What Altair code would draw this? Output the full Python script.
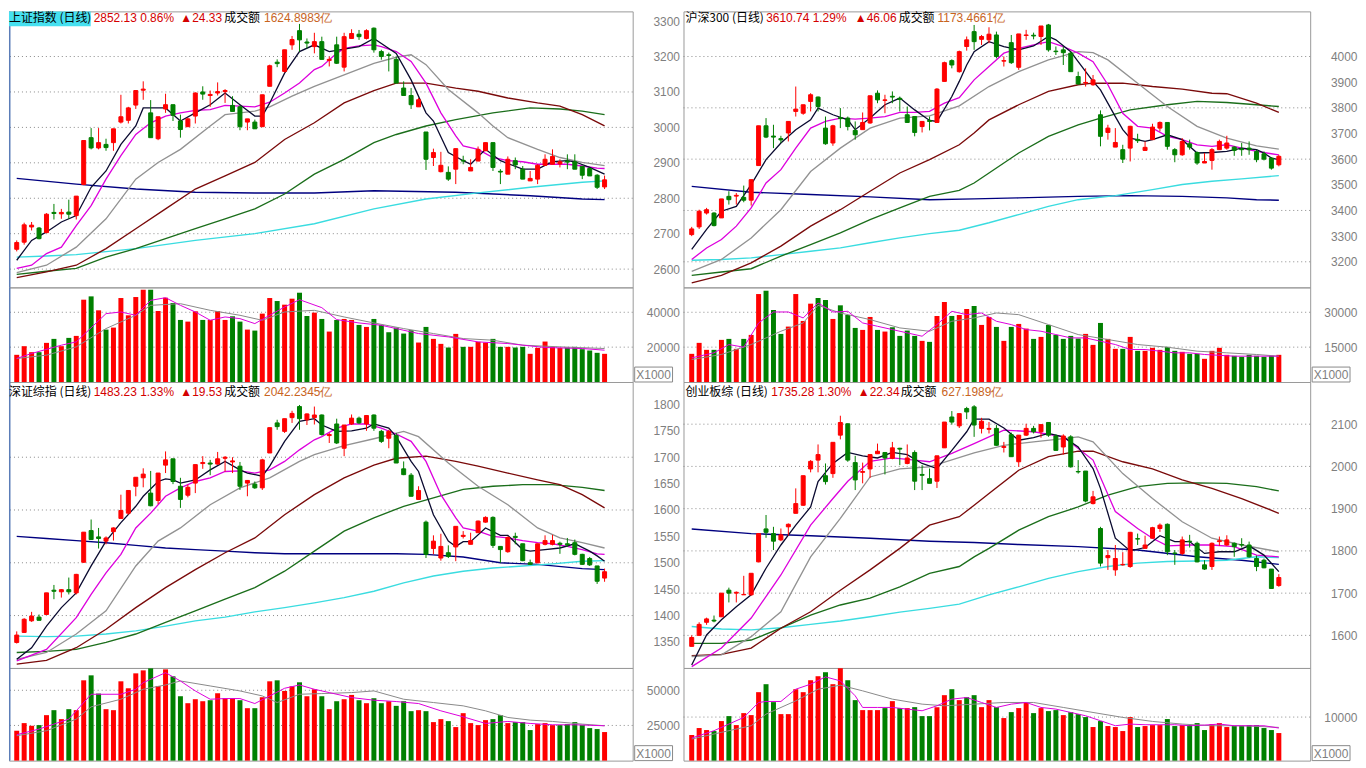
import altair as alt
import pandas as pd
import numpy as np

# ---------------- data ----------------
NAMES = ["上证指数 (日线)", "沪深300 (日线)", "深证综指 (日线)", "创业板综 (日线)"]
QUOTES = ["2852.13 0.86%", "3610.74 1.29%", "1483.23 1.33%", "1735.28 1.30%"]
CHANGES = ["▲24.33", "▲46.06", "▲19.53", "▲22.34"]
AMOUNT_LABEL = "成交额"
AMOUNTS = ["1624.8983亿", "1173.4661亿", "2042.2345亿", "627.1989亿"]

# 上证指数
SH_OPEN = [2656,2676,2719,2716,2703,2760,2756,2761,2751,2839,2971,2942,2952,2957,3015,3020,3063,3105,3041,2968,
           3052,3064,3018,3002,3032,3100,3090,3097,3101,3062,3058,3015,3015,3002,3116,3184,3158,3233,3273,3241,
           3228,3242,3189,3233,3170,3251,3263,3251,3280,3214,3205,3192,3111,3090,3058,2987,2915,2875,2873,2882,
           2907,2877,2905,2934,2957,2876,2868,2906,2882,2849,2854,2893,2896,2897,2905,2903,2890,2884,2865,2832]
SH_CLOSE = [2675,2725,2724,2686,2755,2757,2760,2755,2806,2963,2942,2957,2943,2996,3030,3055,3104,3108,2971,3030,
            3064,3034,2994,3024,3097,3094,3093,3101,3104,3045,3002,3024,2996,3092,3174,3180,3219,3248,3247,3238,
            3242,3192,3192,3181,3256,3265,3256,3273,3219,3200,3203,3125,3090,3064,3078,2910,2929,2893,2854,2940,
            2905,2887,2938,2957,2887,2874,2910,2894,2854,2856,2893,2910,2918,2903,2902,2882,2865,2863,2831,2852]
SH_HIGH = [2681,2731,2733,2719,2758,2784,2770,2796,2806,2963,2998,2998,2968,2996,3092,3058,3104,3130,3077,3030,
           3095,3064,3036,3027,3099,3116,3104,3127,3108,3088,3062,3024,3022,3092,3177,3192,3219,3258,3292,3251,
           3267,3256,3200,3256,3267,3277,3275,3277,3282,3219,3211,3200,3130,3111,3083,2987,2940,2931,2890,2940,
           2920,2910,2946,2957,2957,2882,2918,2915,2891,2877,2896,2924,2938,2910,2924,2924,2891,2887,2868,2864]
SH_LOW = [2650,2669,2709,2684,2703,2740,2742,2742,2740,2837,2938,2938,2934,2934,3011,3011,3052,3078,2971,2964,
          3041,3018,2971,3002,3011,3078,3058,3090,3069,3045,2992,2992,2996,3002,3116,3170,3155,3219,3214,3223,
          3209,3192,3172,3179,3158,3251,3247,3248,3211,3191,3158,3125,3090,3052,3058,2880,2891,2873,2849,2840,
          2896,2877,2905,2934,2877,2840,2868,2882,2854,2849,2840,2893,2896,2887,2882,2882,2854,2863,2826,2826]
SH_VOL = [15600,20550,17120,17120,22450,24740,20550,25310,26450,47220,49120,41120,30070,31210,48170,38260,48740,52930,52930,40740,
          48360,45310,35600,34650,40550,35600,35600,40740,35600,37700,34650,30070,29500,39220,48170,46450,44360,47790,51220,37880,
          39790,36170,28930,35600,36170,35600,32740,31600,36170,32740,28550,31210,27790,29690,22640,31600,24740,21880,19790,27600,
          20170,20170,23030,22640,24740,20170,20170,19790,20170,16170,19600,23210,20170,19600,19790,20170,18830,18070,16740,16170]
SH_MA5 = [[0,2625],[2,2681],[4,2705],[6,2733],[8,2751],[10,2831],[12,2877],[14,2952],[16,3004],[17,3055],[19,3055],[20,3055],
          [22,3018],[24,3041],[26,3064],[28,3097],[30,3064],[32,3032],[33,3032],[34,3069],[36,3153],[38,3214],[40,3233],[42,3214],
          [46,3228],[48,3251],[51,3209],[53,3134],[55,3041],[56,3018],[58,2929],[60,2906],[61,2896],[63,2938],[65,2906],[68,2882],
          [70,2882],[72,2903],[74,2906],[75,2903],[77,2887],[79,2868]]
SH_MA10 = [[0,2602],[2,2611],[4,2644],[6,2662],[8,2723],[10,2779],[12,2854],[14,2920],[16,2980],[18,3013],[20,3032],[22,3041],
           [24,3048],[26,3050],[28,3062],[30,3060],[32,3058],[34,3071],[36,3097],[38,3125],[40,3163],[41,3172],[43,3209],[44,3223],
           [46,3230],[48,3233],[49,3228],[51,3214],[53,3186],[55,3125],[57,3041],[59,2976],[60,2948],[62,2938],[64,2915],[66,2906],
           [68,2903],[70,2896],[72,2896],[74,2896],[76,2891],[78,2885],[79,2884]]
SH_MA20 = [[0,2590],[4,2611],[8,2662],[12,2742],[16,2854],[19,2901],[22,2938],[26,3004],[28,3036],[30,3041],[32,3046],[34,3058],
           [37,3088],[40,3116],[44,3148],[48,3181],[51,3198],[53,3205],[55,3177],[58,3107],[62,3041],[64,3004],[66,2971],[70,2938],
           [73,2915],[76,2901],[79,2892]]
SH_MA60 = [[0,2576],[4,2592],[8,2611],[12,2658],[16,2714],[20,2770],[24,2826],[28,2863],[32,2901],[36,2966],[40,3013],[44,3069],
           [48,3104],[51,3125],[55,3125],[59,3111],[62,3102],[66,3083],[70,3069],[73,3060],[76,3036],[79,3004]]
SH_MA120 = [[0,2585],[4,2594],[8,2602],[12,2634],[16,2658],[20,2686],[24,2714],[28,2742],[32,2770],[36,2812],[40,2868],[44,2910],
            [48,2957],[51,2980],[55,3004],[59,3022],[64,3041],[69,3055],[73,3052],[76,3046],[79,3036]]
SH_MA250 = [[0,2634],[4,2637],[8,2641],[16,2658],[24,2681],[32,2700],[40,2728],[48,2770],[55,2798],[62,2815],[69,2831],[76,2845],[79,2849]]
SH_MAL = [[0,2856],[8,2840],[16,2826],[24,2817],[32,2815],[40,2815],[48,2821],[59,2817],[69,2807],[76,2798],[79,2796]]
SH_VMA5 = [[0,13500],[2,16360],[6,21120],[8,23020],[12,39220],[14,40170],[16,38270],[18,46840],[20,48360],[22,43980],[24,40170],
           [26,35410],[28,37310],[30,36360],[32,33500],[34,38270],[36,43030],[38,47220],[41,42640],[43,35790],[46,33880],[49,32550],
           [54,27790],[58,25880],[62,23020],[66,22070],[71,19790],[76,19210],[79,18260]]
SH_VMA10 = [[0,13500],[4,15400],[8,20170],[12,30650],[16,38270],[18,43980],[22,44930],[26,41120],[30,38270],[33,35410],[36,40170],
            [40,41120],[44,37310],[48,33880],[52,30650],[56,27790],[60,24930],[64,23980],[68,21120],[73,20170],[79,19210]]

# 沪深300
HS_OPEN = [3306,3336,3390,3390,3371,3455,3456,3451,3440,3575,3730,3690,3680,3702,3786,3779,3825,3842,3721,3663,
           3762,3760,3712,3715,3741,3857,3829,3845,3837,3773,3766,3727,3751,3743,3903,3984,3941,4039,4097,4067,
           4065,4084,3982,4054,3958,4082,4083,4078,4123,4021,4026,4013,3922,3897,3890,3773,3704,3647,3637,3643,
           3677,3634,3676,3721,3743,3637,3617,3660,3626,3585,3595,3637,3643,3647,3640,3643,3630,3621,3604,3578]
HS_CLOSE = [3328,3397,3403,3341,3445,3442,3459,3440,3520,3730,3686,3686,3675,3747,3795,3812,3851,3805,3660,3730,
            3758,3727,3695,3743,3847,3831,3831,3842,3833,3743,3704,3747,3747,3873,3976,3967,4019,4065,4058,4078,
            4087,4000,3984,3976,4088,4084,4080,4119,4026,4019,4015,3941,3893,3899,3909,3689,3721,3665,3600,3728,
            3672,3646,3725,3743,3650,3617,3669,3647,3585,3591,3637,3669,3663,3634,3637,3637,3598,3600,3565,3611]
HS_HIGH = [3336,3403,3410,3393,3445,3475,3468,3497,3520,3730,3760,3734,3691,3747,3883,3812,3857,3844,3766,3734,
           3799,3766,3747,3782,3847,3868,3851,3864,3844,3805,3766,3747,3766,3877,3980,3989,4023,4078,4123,4084,
           4114,4097,4000,4084,4088,4104,4093,4119,4127,4039,4039,4019,3941,3954,3928,3790,3734,3721,3656,3730,
           3699,3669,3738,3747,3743,3643,3682,3676,3630,3624,3643,3676,3691,3650,3663,3669,3637,3630,3608,3617]
HS_LOW = [3300,3328,3384,3338,3371,3423,3423,3432,3419,3575,3682,3643,3663,3669,3766,3773,3786,3786,3656,3652,
          3721,3712,3676,3715,3738,3818,3779,3818,3786,3743,3689,3704,3712,3743,3903,3954,3937,4023,4026,4045,
          4052,3993,3961,3971,3948,4065,4067,4045,4019,4006,3967,3941,3890,3883,3886,3650,3676,3647,3585,3591,
          3663,3634,3676,3708,3637,3588,3613,3637,3578,3585,3559,3637,3637,3613,3613,3617,3588,3595,3559,3572]
HS_VOL = [12120,16840,13840,13840,18130,18550,14270,18550,20270,37840,39270,30990,20700,23840,37840,26270,33700,36130,35270,27130,
          32990,28840,23270,22410,27990,22410,21700,23550,19840,22130,19840,17700,17270,28420,34410,28420,28840,31420,32700,24560,
          27990,23700,17700,23700,24990,22980,18550,19410,24560,20270,18550,19840,18690,20700,15980,25410,18550,14270,14270,19410,
          13410,13410,14700,13840,15120,13410,12980,12120,12120,9980,13410,14700,11690,11270,10840,11690,11270,10840,11270,11690]
HS_MA5 = [[0,3248],[2,3326],[4,3397],[6,3416],[8,3501],[10,3598],[12,3663],[14,3715],[16,3753],[17,3799],[19,3773],[21,3753],
          [22,3715],[24,3760],[26,3812],[28,3838],[30,3792],[32,3751],[33,3747],[35,3844],[36,3903],[37,3967],[38,4019],[40,4058],
          [42,4039],[44,4026],[46,4041],[48,4078],[49,4065],[51,4019],[52,3980],[54,3903],[55,3870],[57,3766],[58,3715],[59,3682],
          [61,3669],[62,3676],[64,3695],[66,3676],[68,3624],[70,3626],[72,3630],[74,3643],[76,3637],[77,3624],[78,3604],[79,3598]]
HS_MA10 = [[0,3209],[2,3254],[4,3287],[6,3339],[8,3410],[10,3507],[12,3559],[14,3643],[16,3721],[18,3747],[20,3760],[22,3756],
           [24,3760],[26,3766],[28,3782],[30,3782],[32,3786],[34,3818],[36,3840],[38,3909],[40,3961],[42,4013],[44,4032],[46,4045],
           [48,4058],[50,4039],[52,4013],[54,3980],[56,3890],[58,3779],[60,3728],[62,3721],[64,3689],[66,3676],[68,3656],[70,3650],
           [72,3656],[74,3643],[76,3630],[78,3621],[79,3617]]
HS_MA20 = [[0,3163],[4,3209],[8,3293],[12,3403],[16,3552],[20,3643],[24,3721],[28,3760],[32,3769],[36,3808],[40,3883],[44,3941],
           [48,3987],[52,4019],[54,4015],[56,3987],[60,3896],[64,3805],[68,3728],[72,3682],[76,3652],[79,3639]]
HS_MA60 = [[0,3118],[4,3147],[8,3196],[12,3261],[16,3339],[20,3403],[24,3475],[28,3546],[32,3598],[36,3656],[38,3702],[40,3753],
           [44,3812],[48,3864],[52,3890],[54,3896],[58,3896],[62,3883],[66,3873],[70,3857],[72,3855],[76,3818],[79,3782]]
HS_MA120 = [[0,3147],[4,3160],[8,3173],[12,3222],[16,3267],[20,3313],[24,3364],[28,3410],[32,3455],[36,3478],[38,3507],[40,3546],
            [44,3624],[48,3689],[52,3734],[55,3760],[59,3792],[64,3812],[68,3825],[72,3821],[76,3812],[79,3805]]
HS_MA250 = [[0,3206],[4,3209],[8,3215],[12,3228],[16,3241],[20,3254],[24,3274],[28,3293],[32,3310],[36,3323],[40,3352],[44,3384],
            [48,3416],[52,3442],[57,3458],[62,3481],[66,3501],[70,3514],[74,3523],[79,3536]]
HS_MAL = [[0,3494],[8,3471],[16,3462],[24,3453],[32,3442],[38,3445],[44,3449],[52,3455],[59,3458],[66,3455],[72,3449],[76,3442],[79,3440]]
HS_VMA5 = [[0,10410],[3,12550],[5,16120],[7,14980],[9,25410],[11,30130],[13,30130],[15,27560],[17,33990],[19,30130],[21,30410],
           [23,25410],[25,23980],[27,22550],[29,21130],[31,19700],[33,24700],[35,30410],[37,28980],[39,29700],[41,26130],[43,24700],
           [45,22550],[47,21840],[49,20410],[51,18980],[53,18980],[55,17550],[57,16120],[59,13980],[61,13980],[63,13270],[65,12550],
           [67,12550],[69,11840],[73,11120],[79,11120]]
HS_VMA10 = [[0,9690],[4,11840],[8,16120],[12,21840],[15,25410],[17,32990],[20,29700],[24,26840],[28,23270],[32,21840],[35,26130],
            [38,27560],[41,29700],[44,28980],[48,24700],[52,20410],[56,18270],[60,16120],[64,14980],[68,13270],[72,12550],[76,11840],[79,11120]]

# 深证综指
SZ_OPEN = [1349,1368,1390,1397,1402,1448,1445,1449,1443,1501,1561,1549,1541,1559,1584,1594,1645,1661,1632,1618,
           1685,1697,1645,1628,1651,1688,1689,1687,1698,1691,1683,1651,1649,1642,1708,1765,1749,1775,1796,1771,
           1775,1780,1741,1763,1717,1763,1774,1763,1780,1749,1736,1741,1678,1666,1620,1577,1527,1509,1519,1530,
           1550,1535,1557,1577,1586,1531,1521,1550,1536,1500,1500,1535,1535,1537,1536,1538,1516,1508,1494,1471]
SZ_CLOSE = [1363,1393,1399,1391,1443,1446,1449,1445,1478,1558,1544,1546,1547,1566,1599,1637,1662,1668,1608,1670,
            1695,1654,1620,1643,1686,1690,1687,1697,1700,1693,1645,1656,1642,1695,1756,1758,1773,1783,1773,1782,
            1780,1743,1743,1727,1761,1774,1765,1779,1755,1730,1749,1689,1667,1626,1637,1516,1541,1531,1512,1569,
            1552,1542,1579,1586,1533,1525,1548,1548,1504,1497,1536,1542,1542,1535,1534,1516,1497,1496,1465,1483]
SZ_HIGH = [1370,1395,1407,1402,1443,1458,1450,1472,1479,1558,1582,1566,1550,1567,1629,1637,1662,1679,1674,1670,
           1711,1697,1661,1648,1686,1702,1695,1710,1702,1700,1691,1656,1654,1697,1756,1771,1773,1788,1799,1783,
           1796,1781,1746,1773,1761,1781,1777,1780,1781,1752,1752,1746,1692,1670,1645,1580,1552,1555,1533,1569,
           1560,1557,1580,1588,1588,1531,1550,1557,1536,1506,1536,1552,1553,1540,1547,1544,1517,1511,1494,1489]
SZ_LOW = [1347,1367,1388,1391,1402,1431,1434,1440,1440,1500,1544,1527,1535,1542,1584,1591,1626,1643,1607,1611,
          1670,1649,1604,1624,1632,1678,1666,1686,1673,1670,1638,1626,1640,1638,1708,1752,1746,1765,1752,1761,
          1762,1741,1727,1725,1702,1761,1763,1750,1750,1727,1717,1689,1666,1626,1620,1509,1516,1504,1509,1503,
          1546,1535,1557,1576,1528,1500,1519,1535,1503,1496,1500,1533,1533,1517,1530,1514,1496,1494,1460,1464]
SZ_VOL = [21240,26660,24770,25240,32320,35860,29490,36560,35860,57080,60610,47650,36560,35860,56370,51420,62030,64150,65570,53070,
          64860,59910,45760,40810,43640,42220,42930,47880,44340,44340,42930,37270,37270,45050,56370,57080,49530,52830,55660,45760,
          50710,45760,36560,42220,43640,46700,42930,40810,44340,40810,42220,38920,42220,35150,35860,35150,27370,29490,28070,23830,
          33730,26660,25240,28780,29490,32320,26660,27370,27370,21710,25950,26660,25240,25240,25950,27370,25240,23120,22420,20300]
SZ_MA5 = [[0,1317],[2,1339],[4,1380],[6,1415],[8,1443],[10,1494],[12,1541],[14,1576],[16,1607],[17,1626],[19,1654],[20,1659],
          [21,1657],[22,1651],[24,1657],[26,1676],[28,1692],[30,1676],[31,1670],[33,1664],[34,1683],[36,1730],[38,1768],[40,1773],
          [41,1761],[43,1749],[45,1750],[47,1755],[48,1763],[50,1755],[51,1739],[53,1692],[54,1673],[56,1591],[58,1541],[59,1531],
          [60,1540],[61,1540],[63,1566],[65,1552],[66,1552],[68,1525],[69,1522],[71,1525],[73,1528],[75,1536],[77,1522],[78,1513],[79,1503]]
SZ_MA10 = [[0,1314],[4,1336],[8,1396],[10,1440],[12,1481],[14,1516],[16,1566],[18,1594],[20,1626],[22,1642],[24,1654],[26,1661],
           [28,1673],[30,1674],[32,1670],[34,1676],[36,1692],[38,1714],[40,1733],[41,1739],[43,1755],[45,1763],[47,1763],[49,1755],
           [51,1744],[53,1730],[55,1692],[57,1629],[59,1585],[60,1566],[62,1560],[64,1550],[66,1547],[68,1542],[70,1538],[72,1536],
           [74,1531],[76,1525],[78,1517],[79,1516]]
SZ_MA20 = [[0,1317],[4,1330],[8,1365],[12,1409],[16,1494],[19,1541],[22,1566],[26,1610],[30,1642],[34,1661],[38,1692],[40,1705],
           [44,1722],[48,1735],[52,1749],[54,1739],[58,1689],[62,1645],[66,1610],[70,1566],[73,1547],[76,1538],[79,1528]]
SZ_MA60 = [[0,1308],[4,1315],[8,1339],[12,1374],[16,1415],[20,1453],[24,1487],[28,1519],[32,1547],[36,1591],[40,1629],[44,1661],
           [48,1685],[51,1698],[55,1702],[59,1692],[62,1683],[66,1670],[70,1657],[73,1648],[76,1629],[79,1604]]
SZ_MA120 = [[0,1330],[4,1332],[8,1336],[12,1349],[16,1365],[20,1387],[24,1409],[28,1431],[32,1453],[36,1484],[40,1522],[44,1560],
            [48,1585],[52,1607],[56,1623],[60,1639],[64,1645],[68,1648],[72,1648],[76,1643],[79,1637]]
SZ_MA250 = [[0,1361],[4,1360],[8,1361],[12,1365],[16,1371],[20,1380],[24,1390],[28,1397],[32,1407],[36,1415],[40,1424],[44,1434],
            [48,1446],[52,1462],[56,1475],[60,1484],[64,1490],[68,1494],[72,1498],[76,1503],[79,1504]]
SZ_MAL = [[0,1550],[4,1546],[8,1542],[12,1538],[16,1533],[20,1528],[24,1525],[28,1522],[32,1519],[36,1517],[44,1517],[51,1517],
          [55,1516],[60,1511],[65,1500],[70,1497],[76,1489],[79,1487]]
SZ_VMA5 = [[0,18410],[3,22420],[5,25950],[7,29490],[8,35380],[10,47170],[12,47170],[14,47170],[16,50710],[17,55430],[20,62500],
           [22,56610],[24,49530],[26,43640],[28,44110],[30,44110],[32,40570],[34,45990],[36,51420],[38,53780],[40,50710],[42,48350],
           [45,44820],[48,42930],[51,41990],[54,40570],[57,35380],[60,31140],[63,26420],[66,27840],[69,26420],[72,25480],[75,25480],[79,24770]]
SZ_VMA10 = [[0,17700],[4,21240],[8,29490],[10,38210],[14,43640],[17,50710],[20,53780],[22,56610],[26,53070],[30,49530],[33,45990],
            [35,41280],[38,47170],[41,47650],[45,48350],[48,49530],[52,43640],[56,41280],[60,38920],[63,35380],[66,30670],[69,28780],
            [72,27840],[76,25950],[79,24770]]

# 创业板综
CY_OPEN = [1574,1600,1631,1636,1644,1707,1700,1696,1696,1774,1852,1841,1826,1857,1889,1908,1994,2015,1978,1983,
           2074,2101,2009,1986,1994,2030,2033,2019,2043,2007,2033,1981,1971,1965,2044,2117,2096,2137,2141,2090,
           2088,2090,2045,2075,2011,2074,2090,2082,2104,2072,2046,2070,1988,1989,1912,1853,1784,1755,1767,1763,
           1829,1806,1830,1853,1863,1795,1794,1823,1818,1767,1763,1822,1814,1818,1815,1814,1782,1778,1757,1718]
CY_CLOSE = [1595,1626,1639,1634,1700,1700,1702,1697,1747,1841,1844,1823,1838,1863,1912,1978,2012,2028,1964,2057,
            2104,2015,1968,1988,2028,2036,2020,2044,2041,2020,1965,1979,1960,2025,2105,2105,2125,2129,2098,2107,
            2090,2050,2047,2023,2074,2090,2082,2099,2074,2038,2072,1999,1987,1918,1928,1771,1789,1782,1768,1844,
            1828,1814,1855,1861,1798,1794,1826,1822,1774,1757,1818,1824,1826,1810,1814,1786,1763,1760,1711,1737]
CY_HIGH = [1600,1631,1642,1647,1700,1713,1704,1741,1747,1841,1885,1857,1853,1865,1948,1978,2015,2052,2007,2057,
           2120,2101,2025,2009,2028,2054,2033,2058,2044,2052,2038,2003,1995,2025,2105,2131,2125,2141,2145,2115,
           2105,2098,2058,2080,2074,2101,2096,2099,2104,2076,2076,2074,2015,1989,1942,1857,1802,1814,1797,1845,
           1841,1836,1857,1865,1865,1802,1834,1838,1822,1778,1820,1834,1837,1820,1830,1822,1789,1782,1757,1745]
CY_LOW = [1574,1600,1625,1631,1644,1678,1678,1696,1694,1773,1831,1802,1823,1836,1889,1907,1986,1986,1957,1973,
          2064,2011,1944,1960,1973,2030,1981,2017,2003,2005,1944,1944,1960,1949,2044,2099,2091,2112,2070,2078,
          2078,2049,2033,2023,1999,2072,2078,2068,2070,2038,2028,1997,1983,1915,1910,1763,1755,1741,1765,1760,
          1814,1806,1830,1845,1790,1767,1790,1808,1773,1755,1755,1812,1812,1786,1808,1784,1752,1759,1710,1715]
CY_VOL = [5880,7480,7020,6790,9080,10220,8160,10910,10450,15720,17550,13430,10680,10680,16400,15720,18460,19380,20300,17550,
          21210,18460,13890,11600,11600,11600,12060,13660,12060,12060,12280,10220,10220,12280,15030,16400,13890,14570,15030,12280,
          13890,12280,9770,11140,12060,13430,10910,12060,11370,11600,10450,11140,10680,10000,7710,9080,7940,7710,6790,10000,
          7710,7940,8160,8160,9540,7940,8160,8160,8620,7020,8390,8620,7710,7940,7940,8160,8160,7480,7020,6330]
CY_MA5 = [[0,1530],[2,1601],[4,1637],[6,1668],[8,1696],[10,1759],[12,1814],[14,1861],[16,1904],[17,1964],[19,2007],[21,2033],
          [23,2025],[25,2020],[27,2033],[29,2028],[31,2007],[33,1995],[35,2038],[37,2082],[38,2112],[40,2112],[42,2091],[44,2062],
          [46,2068],[48,2078],[50,2070],[52,2046],[54,1995],[55,1948],[57,1830],[59,1800],[61,1808],[63,1836],[65,1822],[67,1822],
          [69,1794],[71,1798],[73,1798],[75,1812],[77,1790],[79,1751]]
CY_MA10 = [[0,1526],[4,1570],[8,1641],[12,1743],[16,1861],[19,1924],[21,1965],[24,2012],[27,2020],[30,2015],[32,2011],[35,2031],
           [38,2054],[42,2086],[46,2082],[50,2070],[54,2015],[57,1893],[60,1853],[62,1830],[64,1812],[67,1814],[70,1814],[73,1810],
           [76,1790],[79,1786]]
CY_MA20 = [[0,1550],[4,1554],[8,1597],[12,1656],[16,1786],[20,1877],[24,1975],[28,1994],[32,1999],[38,2032],[42,2050],[46,2058],
           [50,2066],[52,2070],[54,2058],[58,1983],[62,1924],[66,1869],[70,1830],[74,1814],[79,1798]]
CY_MA60 = [[0,1552],[4,1555],[8,1570],[12,1617],[16,1656],[20,1707],[24,1755],[28,1806],[32,1861],[36,1881],[38,1908],[40,1936],
           [44,1991],[48,2023],[52,2036],[54,2036],[58,2011],[62,1994],[66,1968],[70,1948],[74,1924],[79,1889]]
CY_MA120 = [[0,1581],[4,1581],[8,1589],[12,1617],[16,1648],[20,1672],[24,1688],[28,1715],[32,1747],[36,1763],[38,1786],[40,1806],
            [44,1849],[48,1881],[52,1904],[56,1932],[60,1952],[64,1960],[68,1961],[72,1960],[76,1952],[79,1942]]
CY_MA250 = [[0,1621],[4,1615],[8,1613],[12,1618],[16,1626],[20,1634],[24,1644],[28,1655],[32,1664],[36,1674],[40,1696],[44,1715],
            [48,1735],[52,1751],[56,1763],[60,1771],[64,1775],[68,1776],[72,1778],[76,1786],[79,1784]]
CY_MAL = [[0,1852],[8,1841],[16,1836],[24,1830],[32,1823],[38,1820],[44,1815],[52,1810],[60,1802],[68,1786],[74,1778],[79,1768]]
CY_VMA5 = [[0,5190],[3,6870],[5,8390],[7,9920],[9,13350],[10,13580],[12,13580],[14,16400],[16,17550],[18,19230],[20,18310],[22,14880],
           [23,12210],[25,12210],[27,12210],[29,11830],[31,11450],[33,12590],[35,14120],[37,14490],[39,13350],[41,12210],[43,12970],
           [45,13350],[47,12210],[49,11830],[51,11060],[53,10300],[55,9160],[57,8010],[59,8390],[61,8240],[63,8240],[65,8240],[67,8010],
           [69,8160],[71,8390],[73,8010],[75,8010],[77,8010],[79,7480]]
CY_VMA10 = [[0,4960],[4,6490],[8,8010],[10,10680],[14,13730],[17,16400],[20,17320],[23,16020],[27,14120],[31,12970],[34,12590],
            [38,12970],[42,13350],[46,13350],[50,12210],[54,11060],[58,9920],[62,9000],[66,8390],[70,8010],[74,8010],[79,7630]]

# axis tick labels and grid lines
SH_TICKS = [2600, 2700, 2800, 2900, 3000, 3100, 3200, 3300]
SH_GRID = [2600, 2700, 2800, 2900, 3000, 3100, 3200]
HS_TICKS = [3200, 3300, 3400, 3500, 3600, 3700, 3800, 3900, 4000]
HS_GRID = [3200, 3400, 3600, 3800, 4000]
SZ_TICKS = [1350, 1400, 1450, 1500, 1550, 1600, 1650, 1700, 1750, 1800]
SZ_GRID = [1400, 1500, 1600, 1700]
CY_TICKS = [1600, 1700, 1800, 1900, 2000, 2100]
CY_GRID = [1600, 1700, 1800, 1900, 2000, 2100]
SH_VTICKS = [20000, 40000]
HS_VTICKS = [15000, 30000]
SZ_VTICKS = [25000, 50000]
CY_VTICKS = [10000]
VOL_UNIT = "X1000"

# ---------------- styling ----------------
RED = "#FF0000"
GREEN = "#008000"
AXIS_GRAY = "#7F7F7F"
GRID_GRAY = "#8A8A8A"
NUM_FONT = "Liberation Sans, DejaVu Sans"
CJK_FONT = "Noto Sans CJK SC"
MA_NAMES = ["mal", "ma250", "ma120", "ma60", "ma20", "ma10", "ma5"]
MA_COLORS = ["#000080", "#3ADCE0", "#1B6E1B", "#7A0A0A", "#929292", "#DD00DD", "#0A0A30"]
MA_WIDTHS = [1.4, 1.3, 1, 1, 1, 1, 1]
VMA_NAMES = ["vma10", "vma5"]
VMA_COLORS = ["#8A8A8A", "#DD00DD"]
LEFT_EDGE = "#5B7DB8"

LW, RW = 626, 629          # plot widths of left / right panels
TOP_H, TVOL_H, BOT_H, BVOL_H = 277, 95, 287, 93
XDOM_L = [-0.369, -0.369 + LW / 7.59]
XDOM_R = [-0.435, -0.435 + RW / 7.58]


def yaxis(values):
    return alt.Axis(orient="right", values=values, format="d", labelAlign="right",
                    labelBaseline="middle", labelPadding=47, ticks=False, tickSize=0,
                    domain=False, grid=False, title=None, labelColor=AXIS_GRAY,
                    labelFont=NUM_FONT, labelFontSize=12, labelFlush=False,
                    labelOverlap=False)


def long_df(named):
    rows = []
    for name, pairs in named:
        for i, v in pairs:
            rows.append({"i": i, "v": v, "s": name})
    return pd.DataFrame(rows)


def dir_color(ch):
    return ch("dir:N", scale=alt.Scale(domain=["up", "down"], range=[RED, GREEN]), legend=None)


def left_edge(H):
    return alt.Chart(pd.DataFrame({"t": [0]})).mark_rule(color=LEFT_EDGE, strokeWidth=1.5).encode(
        x=alt.value(0.75), y=alt.value(0), y2=alt.value(H))


def header_layers(k, xs, ty, highlight):
    one = pd.DataFrame({"t": [0]})
    layers = []
    if highlight:
        layers.append(alt.Chart(one).mark_rect(color="#46E0F0").encode(
            x=alt.value(0), x2=alt.value(82), y=alt.value(ty - 7), y2=alt.value(ty + 8)))
    segs = [(NAMES[k], "black", CJK_FONT), (QUOTES[k], "#D40000", NUM_FONT),
            (CHANGES[k], "#D40000", NUM_FONT), (AMOUNT_LABEL, "black", CJK_FONT),
            (AMOUNTS[k], "#C8641E", NUM_FONT)]
    for (txt, col, font), xx in zip(segs, xs):
        layers.append(alt.Chart(pd.DataFrame({"t": [txt]})).mark_text(
            align="left", baseline="middle", font=font, fontSize=12, color=col).encode(
            text="t:N", x=alt.value(xx), y=alt.value(ty)))
    return layers


def price_chart(k, o, h, l, c, mas, W, H, xdom, ydom, ticks, grids, xs, ty, highlight=False, left=False):
    df = pd.DataFrame({"i": np.arange(len(o)), "open": o, "high": h, "low": l, "close": c})
    df["dir"] = np.where(df["close"] >= df["open"], "up", "down")
    x = alt.X("i:Q", scale=alt.Scale(domain=xdom, nice=False, zero=False), axis=None)
    ys = alt.Scale(domain=ydom, nice=False, zero=False)
    ax = yaxis(ticks)
    grid = alt.Chart(pd.DataFrame({"g": grids})).mark_rule(
        color=GRID_GRAY, strokeDash=[1, 3], strokeWidth=1).encode(y=alt.Y("g:Q", scale=ys, axis=ax))
    lines = alt.Chart(long_df(list(zip(MA_NAMES, mas)))).mark_line(interpolate="linear").encode(
        x=x, y=alt.Y("v:Q", scale=ys, axis=ax),
        color=alt.Color("s:N", scale=alt.Scale(domain=MA_NAMES, range=MA_COLORS), legend=None),
        strokeWidth=alt.StrokeWidth("s:N", scale=alt.Scale(domain=MA_NAMES, range=MA_WIDTHS), legend=None))
    wick = alt.Chart(df).mark_rule(strokeWidth=1).encode(
        x=x, y=alt.Y("low:Q", scale=ys, axis=ax), y2="high:Q", color=dir_color(alt.Color))
    body = alt.Chart(df).mark_bar(size=4, strokeWidth=1).encode(
        x=x, y=alt.Y("open:Q", scale=ys, axis=ax), y2="close:Q",
        color=dir_color(alt.Color), stroke=dir_color(alt.Stroke))
    extra = [left_edge(H)] if left else []
    return alt.layer(grid, lines, wick, body, *extra, *header_layers(k, xs, ty, highlight)).resolve_scale(
        color="independent", stroke="independent", strokeWidth="independent").properties(width=W, height=H)


def vol_chart(o, c, vol, vmas, W, H, xdom, vmax, ticks, left=False):
    df = pd.DataFrame({"i": np.arange(len(vol)), "vol": vol})
    df["dir"] = np.where(np.array(c) >= np.array(o), "up", "down")
    x = alt.X("i:Q", scale=alt.Scale(domain=xdom, nice=False, zero=False), axis=None)
    ys = alt.Scale(domain=[0, vmax], nice=False, zero=True)
    ax = yaxis(ticks)
    grid = alt.Chart(pd.DataFrame({"g": ticks})).mark_rule(
        color=GRID_GRAY, strokeDash=[1, 3], strokeWidth=1).encode(y=alt.Y("g:Q", scale=ys, axis=ax))
    bars = alt.Chart(df).mark_bar(size=5).encode(
        x=x, y=alt.Y("vol:Q", scale=ys, axis=ax), color=dir_color(alt.Color))
    lines = alt.Chart(long_df(list(zip(VMA_NAMES, vmas)))).mark_line(strokeWidth=1).encode(
        x=x, y=alt.Y("v:Q", scale=ys, axis=ax),
        color=alt.Color("s:N", scale=alt.Scale(domain=VMA_NAMES, range=VMA_COLORS), legend=None))
    one = pd.DataFrame({"t": [VOL_UNIT]})
    box = alt.Chart(one).mark_rect(fillOpacity=0, stroke="#8A8A8A", strokeWidth=1).encode(
        x=alt.value(W + 2), x2=alt.value(W + 40), y=alt.value(H - 15), y2=alt.value(H))
    unit = alt.Chart(one).mark_text(align="center", baseline="middle", font=NUM_FONT,
                                    fontSize=12, color=AXIS_GRAY).encode(
        text="t:N", x=alt.value(W + 21), y=alt.value(H - 7))
    extra = [left_edge(H)] if left else []
    return alt.layer(grid, bars, lines, box, unit, *extra).resolve_scale(color="independent").properties(width=W, height=H)


tlp = price_chart(0, SH_OPEN, SH_HIGH, SH_LOW, SH_CLOSE,
                  [SH_MAL, SH_MA250, SH_MA120, SH_MA60, SH_MA20, SH_MA10, SH_MA5],
                  LW, TOP_H, XDOM_L, [2548.5, 3327.4], SH_TICKS, SH_GRID, [0, 85, 172, 216, 256], 7, True, True)
trp = price_chart(1, HS_OPEN, HS_HIGH, HS_LOW, HS_CLOSE,
                  [HS_MAL, HS_MA250, HS_MA120, HS_MA60, HS_MA20, HS_MA10, HS_MA5],
                  RW, TOP_H, XDOM_R, [3100.3, 4175.9], HS_TICKS, HS_GRID, [2, 83, 172, 216, 255], 7)
blp = price_chart(2, SZ_OPEN, SZ_HIGH, SZ_LOW, SZ_CLOSE,
                  [SZ_MAL, SZ_MA250, SZ_MA120, SZ_MA60, SZ_MA20, SZ_MA10, SZ_MA5],
                  LW, BOT_H, XDOM_L, [1300.7, 1842.5], SZ_TICKS, SZ_GRID, [0, 85, 172, 216, 256], 10, False, True)
brp = price_chart(3, CY_OPEN, CY_HIGH, CY_LOW, CY_CLOSE,
                  [CY_MAL, CY_MA250, CY_MA120, CY_MA60, CY_MA20, CY_MA10, CY_MA5],
                  RW, BOT_H, XDOM_R, [1522.9, 2199.8], CY_TICKS, CY_GRID, [2, 88, 175, 218, 259], 10)

tlv = vol_chart(SH_OPEN, SH_CLOSE, SH_VOL, [SH_VMA10, SH_VMA5], LW, TVOL_H, XDOM_L, 54286, SH_VTICKS, True)
trv = vol_chart(HS_OPEN, HS_CLOSE, HS_VOL, [HS_VMA10, HS_VMA5], RW, TVOL_H, XDOM_R, 40714, HS_VTICKS)
blv = vol_chart(SZ_OPEN, SZ_CLOSE, SZ_VOL, [SZ_VMA10, SZ_VMA5], LW, BVOL_H, XDOM_L, 65863, SZ_VTICKS, True)
brv = vol_chart(CY_OPEN, CY_CLOSE, CY_VOL, [CY_VMA10, CY_VMA5], RW, BVOL_H, XDOM_R, 21280, CY_VTICKS)

chart = alt.concat(tlp, trp, tlv, trv, blp, brp, blv, brv, columns=2,
                   spacing={"row": 0, "column": 51}, bounds="flush", align="each").properties(
    padding=0).configure_view(stroke="#9A9A9A", strokeWidth=1)

chart.save("out.html", embed_options={"renderer": "svg", "actions": False})
